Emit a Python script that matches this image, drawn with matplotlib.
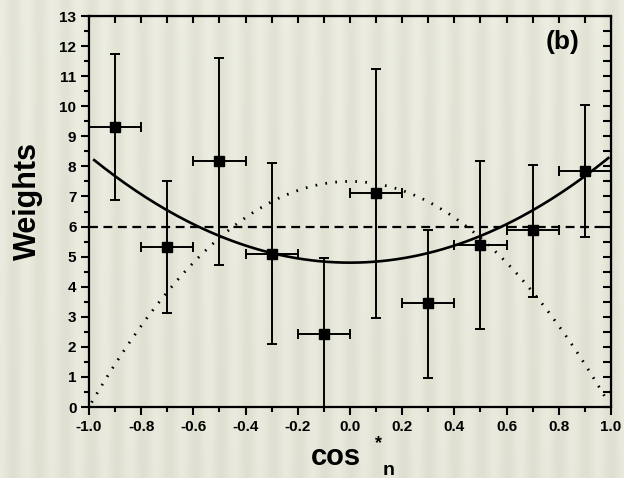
import numpy as np
import matplotlib
matplotlib.use('Agg')
import matplotlib.pyplot as plt
from matplotlib.ticker import MultipleLocator

plt.rcParams['font.family'] = ['Liberation Sans', 'DejaVu Sans']
plt.rcParams['font.weight'] = 'bold'

# Measured weights per cos* bin
cos_bins = [-0.9, -0.7, -0.5, -0.3, -0.1, 0.1, 0.3, 0.5, 0.7, 0.9]
weights = [9.31, 5.32, 8.18, 5.09, 2.43, 7.11, 3.46, 5.39, 5.88, 7.85]
err_low = [2.43, 2.20, 3.46, 3.00, 2.43, 4.15, 2.49, 2.80, 2.22, 2.20]
err_high = [2.42, 2.19, 3.42, 3.02, 2.52, 4.13, 2.44, 2.79, 2.17, 2.19]
bin_half_width = [0.1] * 10
x_ticks = [-1.0, -0.8, -0.6, -0.4, -0.2, 0.0, 0.2, 0.4, 0.6, 0.8, 1.0]
x_tick_labels = ['-1.0', '-0.8', '-0.6', '-0.4', '-0.2', '0.0',
                 '0.2', '0.4', '0.6', '0.8', '1.0']

# Fit parameters: W = a + b*cos^2 (solid), W = c*(1 - cos^2) (dotted), flat level (dashed)
fit_a, fit_b = 4.80, 3.55
dot_c = 7.5
flat_level = 6.0

fig = plt.figure(figsize=(6.24, 4.78), dpi=100)

# Soft striped backdrop
bg = fig.add_axes([0, 0, 1, 1], zorder=-10)
cols = np.arange(624)
stripes = 0.5 + 0.5 * np.cos(2 * np.pi * cols / 26.0)
rows = np.linspace(0, 1, 478)[:, None]
light = np.array([242, 242, 232]) / 255
dark = np.array([214, 215, 198]) / 255
mix = 0.45 + 0.35 * stripes[None, :] - 0.12 * rows
img = dark + (light - dark) * mix[..., None]
bg.imshow(img, aspect='auto', extent=[0, 1, 0, 1])
bg.axis('off')

ax = fig.add_axes([0.1426, 0.1485, 0.8365, 0.818])
ax.patch.set_alpha(0)

xs = np.linspace(-0.98, 0.99, 200)
ax.plot(xs, fit_a + fit_b * xs**2, color='black', lw=1.9)
xd = np.linspace(-0.99, 0.99, 200)
ax.plot(xd, dot_c * (1 - xd**2), color='black', lw=2.0, ls=(0, (0.6, 3.0)))
ax.axhline(flat_level, color='black', lw=1.6, ls=(0, (4, 2.5)))

ax.errorbar(cos_bins, weights, yerr=[err_low, err_high], xerr=bin_half_width,
            fmt='s', color='black', ms=6.5, elinewidth=1.4, capsize=3.5,
            capthick=1.4)

ax.set_xlim(-1.0, 1.0)
ax.set_ylim(0, 13)
ax.set_xticks(x_ticks)
ax.set_xticklabels(x_tick_labels)
ax.xaxis.set_minor_locator(MultipleLocator(0.1))
ax.yaxis.set_major_locator(MultipleLocator(1))
ax.yaxis.set_minor_locator(MultipleLocator(0.5))
ax.tick_params(which='major', direction='out', length=6, width=1.5,
               labelsize=11, pad=3)
ax.tick_params(which='minor', direction='out', length=3.5, width=1.5)
for s in ax.spines.values():
    s.set_linewidth(1.6)

top = ax.secondary_xaxis('top')
top.xaxis.set_major_locator(MultipleLocator(0.1))
top.tick_params(direction='in', length=5, width=1.5, labeltop=False)
right = ax.secondary_yaxis('right')
right.yaxis.set_major_locator(MultipleLocator(0.5))
right.tick_params(direction='in', length=6, width=1.5, labelright=False)

ax.text(0.94, 0.965, '(b)', transform=ax.transAxes, fontsize=19,
        fontweight='bold', ha='right', va='top')

fig.text(0.045, 0.58, 'Weights', rotation=90, fontsize=22, fontweight='bold',
         ha='center', va='center')
fig.text(0.538, 0.027, 'cos', fontsize=21, fontweight='bold', ha='center',
         va='baseline')
fig.text(0.606, 0.062, '*', fontsize=13, fontweight='bold', ha='center',
         va='baseline')
fig.text(0.622, 0.006, 'n', fontsize=14, fontweight='bold', ha='center',
         va='baseline')

fig.savefig('out.png', dpi=100)
